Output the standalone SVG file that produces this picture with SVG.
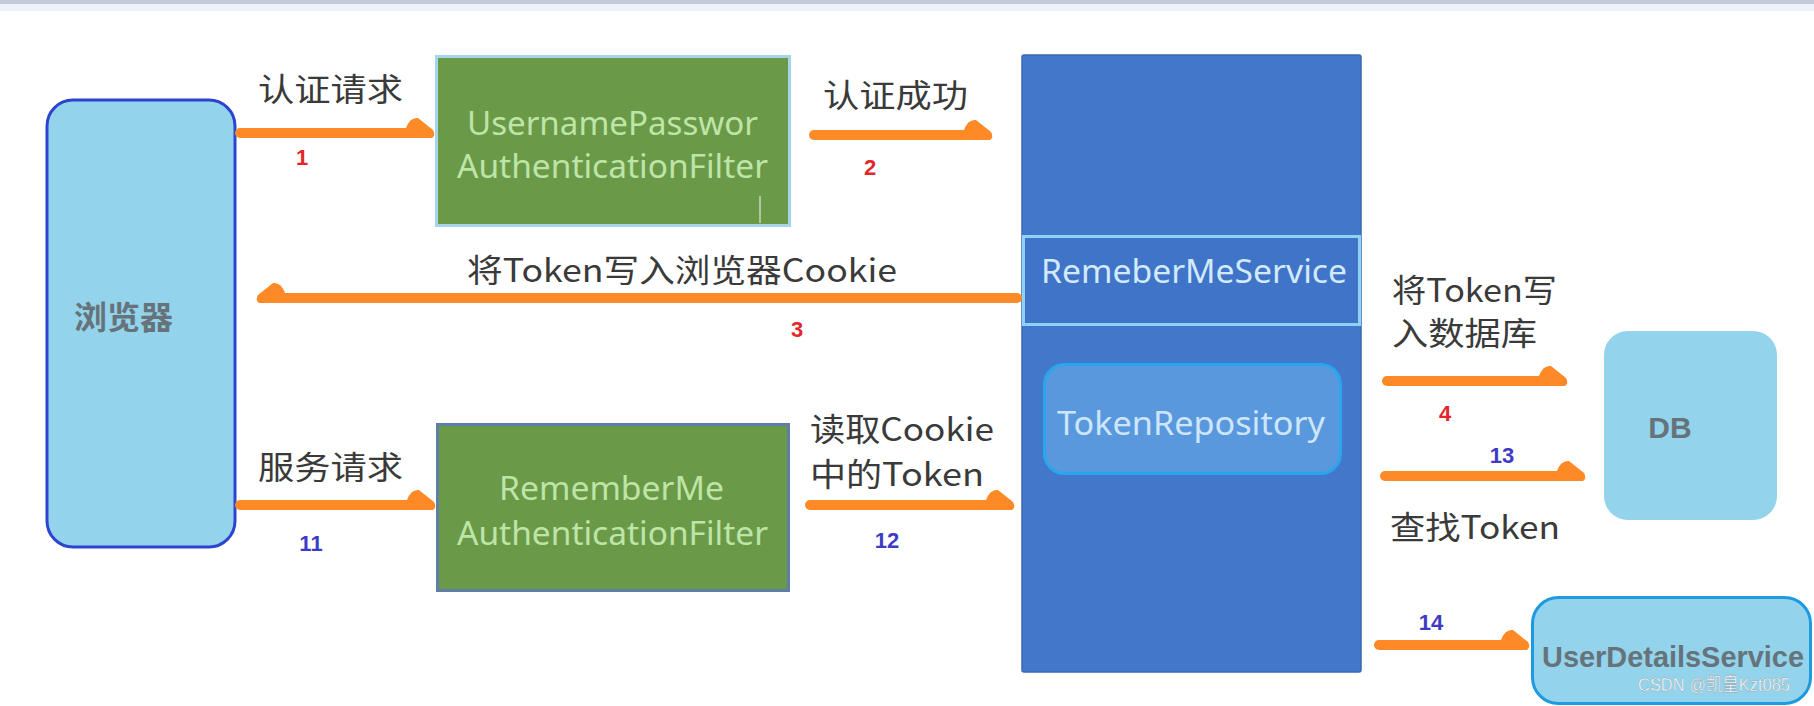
<svg xmlns="http://www.w3.org/2000/svg" width="1814" height="706" viewBox="0 0 1814 706">
<style>
.lbl{font-family:"Noto Sans CJK SC","Noto Sans",sans-serif;font-size:32px;fill:#3a3a3a;dominant-baseline:central}
.ntxt{font-family:"Noto Sans","Liberation Sans",sans-serif;font-size:32px;dominant-baseline:central}
.num{font-family:"Liberation Sans",sans-serif;font-size:22px;font-weight:bold;dominant-baseline:central;text-anchor:middle}
.red{fill:#e3262a}
.blue{fill:#3d3bc4}
.conn{stroke:#fd8a26;stroke-width:10;stroke-linecap:round;fill:none}
.bold{font-family:"Liberation Sans","Noto Sans CJK SC",sans-serif;font-weight:bold;fill:#66737a;dominant-baseline:central}
</style>
<defs>
<marker id="hr" markerUnits="userSpaceOnUse" markerWidth="40" markerHeight="40" refX="0" refY="0" orient="0" overflow="visible">
<path d="M-22,-5 Q-18,-16 -10,-15 L5,-3 Q8,2 4,5 L-22,5 Z" fill="#fd8a26"/>
</marker>
<marker id="hl" markerUnits="userSpaceOnUse" markerWidth="40" markerHeight="40" refX="0" refY="0" orient="0" overflow="visible">
<path d="M22,-5 Q18,-16 10,-15 L-5,-3 Q-8,2 -4,5 L22,5 Z" fill="#fd8a26"/>
</marker>
</defs>
<rect x="0" y="0" width="1814" height="706" fill="#ffffff"/>
<rect x="0" y="0" width="1814" height="4" fill="#c3cad8"/>
<rect x="0" y="4" width="1814" height="7" fill="#eef0fb"/>

<g id="browser">
<rect x="47" y="100" width="188" height="447" rx="26" fill="#93d4ec" stroke="#2c44cf" stroke-width="3"/>
<text class="bold" x="74" y="318" font-size="32" textLength="99" lengthAdjust="spacingAndGlyphs">浏览器</text>
</g>

<g id="upFilter">
<rect x="436.5" y="56.5" width="353" height="169" fill="#6a9a47" stroke="#a6d4ea" stroke-width="3"/>
<text class="ntxt" x="467" y="122" fill="#bfe4a8" textLength="291" lengthAdjust="spacingAndGlyphs">UsernamePasswor</text>
<text class="ntxt" x="457" y="165" fill="#bfe4a8" textLength="311" lengthAdjust="spacingAndGlyphs">AuthenticationFilter</text>
<line x1="760" y1="196" x2="760" y2="223" stroke="#c8d8c0" stroke-width="1.5"/>
</g>

<g id="rmFilter">
<rect x="437.5" y="424.5" width="351" height="166" fill="#6a9a47" stroke="#5e7ea6" stroke-width="3"/>
<text class="ntxt" x="499" y="487" fill="#bfe4a8" textLength="225" lengthAdjust="spacingAndGlyphs">RememberMe</text>
<text class="ntxt" x="457" y="532" fill="#bfe4a8" textLength="311" lengthAdjust="spacingAndGlyphs">AuthenticationFilter</text>
</g>

<g id="rmService">
<rect x="1022" y="55" width="339" height="617" rx="2" fill="#4277c9" stroke="#3a68b4" stroke-width="1.5"/>
<rect x="1023.5" y="236.5" width="336" height="88" fill="#3f74c8" stroke="#8ed3f5" stroke-width="3"/>
<text class="ntxt" x="1041" y="270" fill="#d2eafb" textLength="306" lengthAdjust="spacingAndGlyphs">RemeberMeService</text>
</g>

<g id="tokenRepo">
<rect x="1044.5" y="364.5" width="296" height="109" rx="20" fill="#5a98de" stroke="#2aa6ee" stroke-width="3"/>
<text class="ntxt" x="1057" y="422" fill="#cde6fb" textLength="268" lengthAdjust="spacingAndGlyphs">TokenRepository</text>
</g>

<g id="db">
<rect x="1604" y="331" width="173" height="189" rx="24" fill="#93d3ec"/>
<text class="bold" x="1670" y="427" font-size="30" text-anchor="middle">DB</text>
</g>

<g id="uds">
<rect x="1532.5" y="597.5" width="278" height="106" rx="26" fill="#93d3ec" stroke="#1e9be0" stroke-width="3"/>
<text class="bold" x="1542" y="656" font-size="30" textLength="262" lengthAdjust="spacingAndGlyphs">UserDetailsService</text>
</g>

<g id="connectors">
<line class="conn" x1="240" y1="133" x2="428" y2="133" marker-end="url(#hr)"/>
<line class="conn" x1="814" y1="135" x2="986" y2="135" marker-end="url(#hr)"/>
<line class="conn" x1="1017" y1="298" x2="263" y2="298" marker-end="url(#hl)"/>
<line class="conn" x1="1387" y1="381" x2="1561" y2="381" marker-end="url(#hr)"/>
<line class="conn" x1="240" y1="505" x2="429" y2="505" marker-end="url(#hr)"/>
<line class="conn" x1="810" y1="505" x2="1008" y2="505" marker-end="url(#hr)"/>
<line class="conn" x1="1385" y1="476" x2="1579" y2="476" marker-end="url(#hr)"/>
<line class="conn" x1="1379" y1="645" x2="1523" y2="645" marker-end="url(#hr)"/>
</g>

<g id="labels">
<text class="lbl" x="258" y="87" textLength="145" lengthAdjust="spacingAndGlyphs">认证请求</text>
<text class="lbl" x="823" y="93" textLength="145" lengthAdjust="spacingAndGlyphs">认证成功</text>
<text class="lbl" x="467" y="268" textLength="430" lengthAdjust="spacingAndGlyphs">将Token写入浏览器Cookie</text>
<text class="lbl" x="1392" y="288" textLength="165" lengthAdjust="spacingAndGlyphs">将Token写</text>
<text class="lbl" x="1392" y="331" textLength="145" lengthAdjust="spacingAndGlyphs">入数据库</text>
<text class="lbl" x="258" y="465" textLength="145" lengthAdjust="spacingAndGlyphs">服务请求</text>
<text class="lbl" x="810" y="427" textLength="184" lengthAdjust="spacingAndGlyphs">读取Cookie</text>
<text class="lbl" x="810" y="472" textLength="174" lengthAdjust="spacingAndGlyphs">中的Token</text>
<text class="lbl" x="1390" y="525" textLength="170" lengthAdjust="spacingAndGlyphs">查找Token</text>
<text class="num red" x="302" y="157">1</text>
<text class="num red" x="870" y="167">2</text>
<text class="num red" x="797" y="329">3</text>
<text class="num red" x="1445" y="413">4</text>
<text class="num blue" x="311" y="543">11</text>
<text class="num blue" x="887" y="540">12</text>
<text class="num blue" x="1502" y="455">13</text>
<text class="num blue" x="1431" y="622">14</text>
<text x="1638" y="684" font-family="Liberation Sans,Noto Sans CJK SC,sans-serif" font-size="19" fill="#ffffff" stroke="#8a9aa4" stroke-width="0.4" dominant-baseline="central" textLength="152" lengthAdjust="spacingAndGlyphs">CSDN @凯皇Kzt085</text>
</g>
</svg>
